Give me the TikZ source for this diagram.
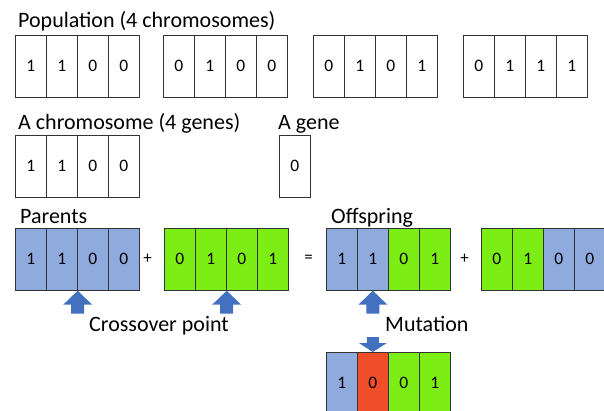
\documentclass[tikz,border=0pt]{standalone}
\usepackage{fontspec}
\setmainfont{Carlito}
\usepackage{xcolor}
\usepackage{tikz}
\usetikzlibrary{positioning}
\definecolor{genblue}{HTML}{8FAADC}
\definecolor{gengreen}{HTML}{7CEE16}
\definecolor{genred}{HTML}{F04E28}
\definecolor{arrowblue}{HTML}{4470C0}

\begin{document}
\begin{tikzpicture}[
    x=1pt, y=-1pt,
    gene/.style={rectangle, draw=black!80, line width=0.7pt, minimum width=31pt, minimum height=62pt, inner sep=0pt, anchor=north west, font=\fontsize{17.5}{17.5}\selectfont},
    label/.style={anchor=base west, inner sep=0pt, font=\fontsize{22}{22}\selectfont},
    sign/.style={inner sep=0pt, font=\fontsize{17}{17}\selectfont},
    uparrow/.pic={\fill[arrowblue] (0,0) -- (14.5,14) -- (6.5,14) -- (6.5,23) -- (-6.5,23) -- (-6.5,14) -- (-14.5,14) -- cycle;},
    downarrow/.pic={\fill[arrowblue] (0,0) -- (14,-9) -- (6,-9) -- (6,-15) -- (-6,-15) -- (-6,-9) -- (-14,-9) -- cycle;}
]
\useasboundingbox (0,0) rectangle (604,410);

% population
\node[label] (poptitle) at (18,27) {Population (4 chromosomes)};
\foreach \x/\bits [count=\i] in {15/{1,1,0,0}, 163/{0,1,0,0}, 313/{0,1,0,1}, 463/{0,1,1,1}} {
    \foreach \b [count=\j] in \bits {
        \node[gene] (pop\i-\j) at (\x+31*\j-31, 34.5) {\b};
    }
}

% one chromosome, one gene
\node[label] (chromtitle) at (18,129) {A chromosome (4 genes)};
\foreach \b [count=\j] in {1,1,0,0} {
    \node[gene] (chrom-\j) at (15+31*\j-31, 135) {\b};
}
\node[label] (genetitle) at (278,129) {A gene};
\node[gene] (gene) at (279,135) {0};

% parents and offspring
\node[label] (partitle) at (20,223) {Parents};
\node[label] (offtitle) at (331,223) {Offspring};
\foreach \name/\x/\cells in {par1/15/{genblue/1,genblue/1,genblue/0,genblue/0},
                             par2/164/{gengreen/0,gengreen/1,gengreen/0,gengreen/1},
                             off1/326/{genblue/1,genblue/1,gengreen/0,gengreen/1},
                             off2/481/{gengreen/0,gengreen/1,genblue/0,genblue/0}} {
    \foreach \c/\b [count=\j] in \cells {
        \node[gene, fill=\c] (\name-\j) at (\x+31*\j-31, 228) {\b};
    }
}
\node[sign] (plus1) at (147.5,259) {+};
\node[sign] (equal) at (308.5,259) {=};
\node[sign] (plus2) at (464.5,259) {+};

% crossover
\pic at (par1-2.south east) {uparrow};
\pic at (par2-2.south east) {uparrow};
\node[label] (crosstitle) at (89,331) {Crossover point};

% mutation
\pic at (off1-2.south) {uparrow};
\node[label] (muttitle) at (385,331) {Mutation};
\foreach \c/\b [count=\j] in {genblue/1,genred/0,gengreen/0,gengreen/1} {
    \node[gene, fill=\c] (mut-\j) at (326+31*\j-31, 352) {\b};
}
\pic at (mut-2.north) {downarrow};
\end{tikzpicture}
\end{document}
